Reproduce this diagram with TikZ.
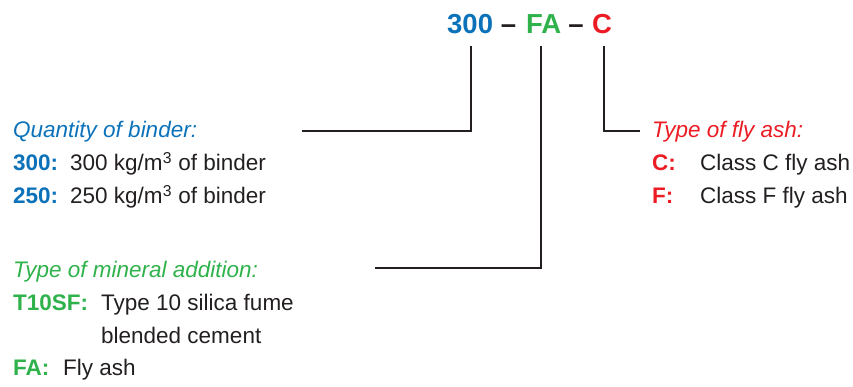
\documentclass[tikz,border=0pt]{standalone}
\usepackage{fontspec}
\setmainfont{Liberation Sans}
\definecolor{cblue}{HTML}{0B72BA}
\definecolor{cgreen}{HTML}{2FB24B}
\definecolor{cred}{HTML}{EC1C24}
\definecolor{ctext}{HTML}{231F20}
\begin{document}
\begin{tikzpicture}[x=1pt,y=-1pt,
  txt/.style={anchor=base west,inner sep=0pt,font=\fontsize{22.5}{24}\selectfont,text=ctext},
  hdr/.style={txt,font=\fontsize{22.5}{24}\selectfont\itshape},
  key/.style={txt,font=\fontsize{22.5}{24}\selectfont\bfseries},
  ttl/.style={anchor=base west,inner sep=0pt,font=\fontsize{27.5}{30}\selectfont\bfseries},
  leader/.style={line width=1.4pt,draw=ctext}]
\useasboundingbox (0,0) rectangle (853,387);
% title
\node[ttl] (t300) at (447,34) {\textcolor{cblue}{300}};
\node[ttl] (tFA) at (526,34) {\textcolor{cgreen}{FA}};
\node[ttl] (tC) at (592,34) {\textcolor{cred}{C}};
\node[ttl,anchor=base,text=ctext] (d1) at (508.5,34) {–};
\node[ttl,anchor=base,text=ctext] (d2) at (576,34) {–};
% corners
\coordinate (a0) at (471,46);
\coordinate (a1) at (471,131);
\coordinate (a2) at (302,131);
\coordinate (b0) at (541,46);
\coordinate (b1) at (541,268);
\coordinate (b2) at (375,268);
\coordinate (c0) at (604,46);
\coordinate (c1) at (604,131);
\coordinate (c2) at (640,131);
\draw[leader] (a0) -- (a1) -- (a2);
\draw[leader] (b0) -- (b1) -- (b2);
\draw[leader] (c0) -- (c1) -- (c2);
% binder
\node[hdr,text=cblue] (qb) at (13,138) {Quantity of binder:};
\node[key,text=cblue] (k300) at (13,171) {300:};
\node[txt] (v300) at (70,171) {300 kg/m\textsuperscript{3} of binder};
\node[key,text=cblue] (k250) at (13,204) {250:};
\node[txt] (v250) at (70,204) {250 kg/m\textsuperscript{3} of binder};
% mineral
\node[hdr,text=cgreen] (tm) at (13,277) {Type of mineral addition:};
\node[key,text=cgreen] (kT) at (13,310) {T10SF:};
\node[txt] (vT) at (101,310) {Type 10 silica fume};
\node[txt] (vT2) at (101,343) {blended cement};
\node[key,text=cgreen] (kF) at (13,375) {FA:};
\node[txt] (vF) at (63,375) {Fly ash};
% fly ash
\node[hdr,text=cred] (tf) at (652,138) {Type of fly ash:};
\node[key,text=cred] (kC) at (652,171) {C:};
\node[txt] (vC) at (700,171) {Class C fly ash};
\node[key,text=cred] (kFF) at (652,204) {F:};
\node[txt] (vFF) at (700,204) {Class F fly ash};
\end{tikzpicture}
\end{document}
